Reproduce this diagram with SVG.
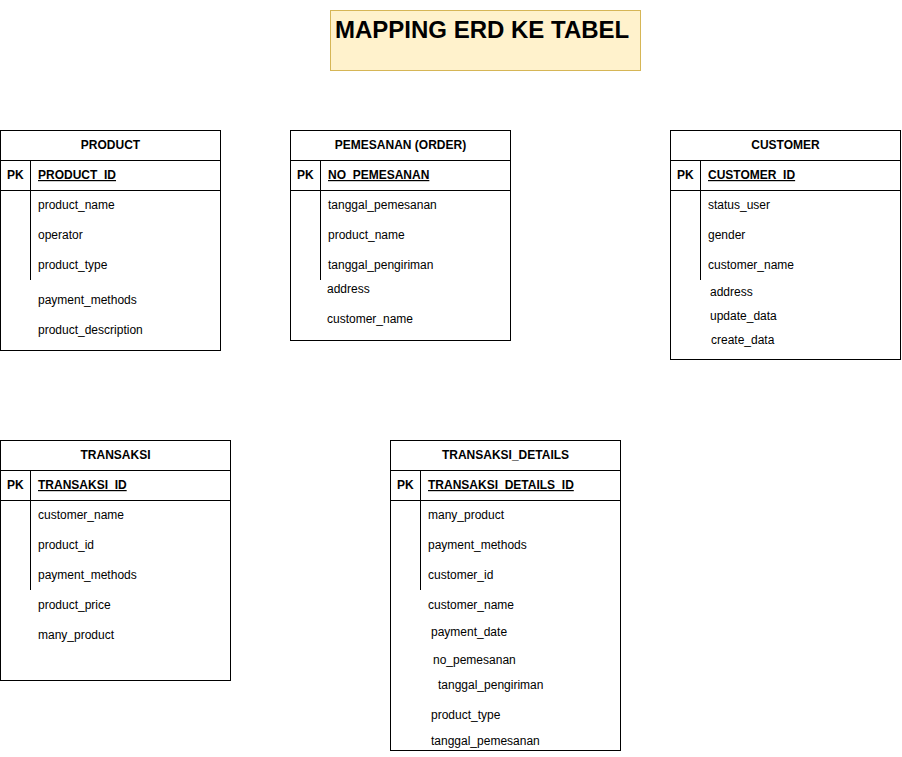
<svg xmlns="http://www.w3.org/2000/svg" width="902" height="757" viewBox="0 0 902 757">
<style>
.box{fill:#fff;stroke:#000;stroke-width:1}
.ln{stroke:#000;stroke-width:1;fill:none}
text{font-family:"Liberation Sans",Arial,sans-serif;font-size:12px;fill:#000}
.hd{font-weight:bold;text-anchor:middle}
.pk{font-weight:bold}
.id{font-weight:bold;text-decoration:underline}
.title{font-size:24px;font-weight:bold}
</style>
<rect width="902" height="757" fill="#fff"/>
<g id="title">
<rect x="330.5" y="10.5" width="310" height="60" fill="#fff2cc" stroke="#d6b656"/>
<text class="title" x="335" y="38">MAPPING ERD KE TABEL</text>
</g>
<g id="product">
<rect class="box" x="0.5" y="130.5" width="220" height="220"/>
<path class="ln" d="M0.5 160.5H220.5M0.5 190.5H220.5M30.5 160.5V280"/>
<text class="hd" x="110.5" y="149">PRODUCT</text>
<text class="pk" x="7" y="179">PK</text>
<text class="id" x="38" y="179">PRODUCT_ID</text>
<text x="38" y="209">product_name</text>
<text x="38" y="239">operator</text>
<text x="38" y="269">product_type</text>
<text x="38" y="304">payment_methods</text>
<text x="38" y="334">product_description</text>
</g>
<g id="pemesanan">
<rect class="box" x="290.5" y="130.5" width="220" height="210"/>
<path class="ln" d="M290.5 160.5H510.5M290.5 190.5H510.5M320.5 160.5V280"/>
<text class="hd" x="400.5" y="149">PEMESANAN (ORDER)</text>
<text class="pk" x="297" y="179">PK</text>
<text class="id" x="328" y="179">NO_PEMESANAN</text>
<text x="328" y="209">tanggal_pemesanan</text>
<text x="328" y="239">product_name</text>
<text x="328" y="269">tanggal_pengiriman</text>
<text x="327" y="293">address</text>
<text x="327" y="323">customer_name</text>
</g>
<g id="customer">
<rect class="box" x="670.5" y="130.5" width="230" height="229"/>
<path class="ln" d="M670.5 160.5H900.5M670.5 190.5H900.5M700.5 160.5V280"/>
<text class="hd" x="785.5" y="149">CUSTOMER</text>
<text class="pk" x="677" y="179">PK</text>
<text class="id" x="708" y="179">CUSTOMER_ID</text>
<text x="708" y="209">status_user</text>
<text x="708" y="239">gender</text>
<text x="708" y="269">customer_name</text>
<text x="710" y="296">address</text>
<text x="710" y="320">update_data</text>
<text x="711" y="344">create_data</text>
</g>
<g id="transaksi">
<rect class="box" x="0.5" y="440.5" width="230" height="240"/>
<path class="ln" d="M0.5 470.5H230.5M0.5 500.5H230.5M30.5 470.5V590"/>
<text class="hd" x="115.5" y="459">TRANSAKSI</text>
<text class="pk" x="7" y="489">PK</text>
<text class="id" x="38" y="489">TRANSAKSI_ID</text>
<text x="38" y="519">customer_name</text>
<text x="38" y="549">product_id</text>
<text x="38" y="579">payment_methods</text>
<text x="38" y="609">product_price</text>
<text x="38" y="639">many_product</text>
</g>
<g id="transaksi_details">
<rect class="box" x="390.5" y="440.5" width="230" height="310"/>
<path class="ln" d="M390.5 470.5H620.5M390.5 500.5H620.5M420.5 470.5V590"/>
<text class="hd" x="505.5" y="459">TRANSAKSI_DETAILS</text>
<text class="pk" x="397" y="489">PK</text>
<text class="id" x="428" y="489">TRANSAKSI_DETAILS_ID</text>
<text x="428" y="519">many_product</text>
<text x="428" y="549">payment_methods</text>
<text x="428" y="579">customer_id</text>
<text x="428" y="609">customer_name</text>
<text x="431" y="636">payment_date</text>
<text x="433" y="664">no_pemesanan</text>
<text x="438" y="689">tanggal_pengiriman</text>
<text x="431" y="719">product_type</text>
<text x="431" y="745">tanggal_pemesanan</text>
</g>
<g id="connectors"></g>
</svg>
